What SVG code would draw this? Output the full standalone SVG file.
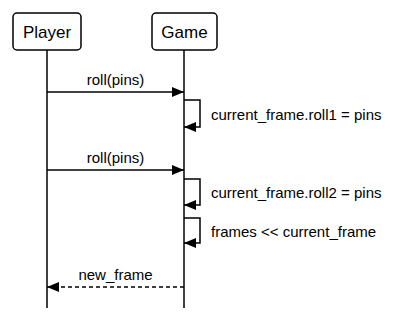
<svg xmlns="http://www.w3.org/2000/svg" width="402" height="319" viewBox="0 0 402 319">
  <style>
    .box { fill: #ffffff; stroke: #000000; stroke-width: 1.5; }
    .life { stroke: #000000; stroke-width: 1.5; fill: none; }
    .msg { stroke: #000000; stroke-width: 1.5; fill: none; }
    .dash { stroke-dasharray: 4 3; }
    .name { font-family: "Liberation Sans", Arial, sans-serif; font-size: 17px; fill: #000000; text-anchor: middle; }
    .label { font-family: "Liberation Sans", Arial, sans-serif; font-size: 15px; fill: #000000; }
  </style>
  <defs>
    <marker id="head" viewBox="0 0 12 10" refX="12" refY="5" markerWidth="12" markerHeight="10" markerUnits="userSpaceOnUse" orient="auto">
      <path d="M0,0 L12,5 L0,10 Z" fill="#000000"/>
    </marker>
  </defs>

  <g id="player">
    <line class="life" x1="47" y1="50" x2="47" y2="308"/>
    <rect class="box" x="13" y="13" width="68" height="37" rx="4"/>
    <text class="name" x="47" y="38">Player</text>
  </g>

  <g id="game">
    <line class="life" x1="184" y1="50" x2="184" y2="308"/>
    <rect class="box" x="152" y="13" width="65" height="37" rx="4"/>
    <text class="name" x="184.5" y="38">Game</text>
  </g>

  <g id="connectors">
    <line class="msg" x1="47" y1="92" x2="184" y2="92" marker-end="url(#head)"/>
    <text class="label" x="115.5" y="85" text-anchor="middle">roll(pins)</text>

    <polyline class="msg" points="184,100 200,100 200,127 184,127" marker-end="url(#head)"/>
    <text class="label" x="211" y="120">current_frame.roll1 = pins</text>

    <line class="msg" x1="47" y1="170" x2="184" y2="170" marker-end="url(#head)"/>
    <text class="label" x="115.5" y="163" text-anchor="middle">roll(pins)</text>

    <polyline class="msg" points="184,179 200,179 200,205 184,205" marker-end="url(#head)"/>
    <text class="label" x="211" y="198">current_frame.roll2 = pins</text>

    <polyline class="msg" points="184,218 200,218 200,243 184,243" marker-end="url(#head)"/>
    <text class="label" x="211" y="237">frames &lt;&lt; current_frame</text>

    <line class="msg dash" x1="184" y1="287" x2="47" y2="287" marker-end="url(#head)"/>
    <text class="label" x="115.5" y="280" text-anchor="middle">new_frame</text>
  </g>
</svg>
